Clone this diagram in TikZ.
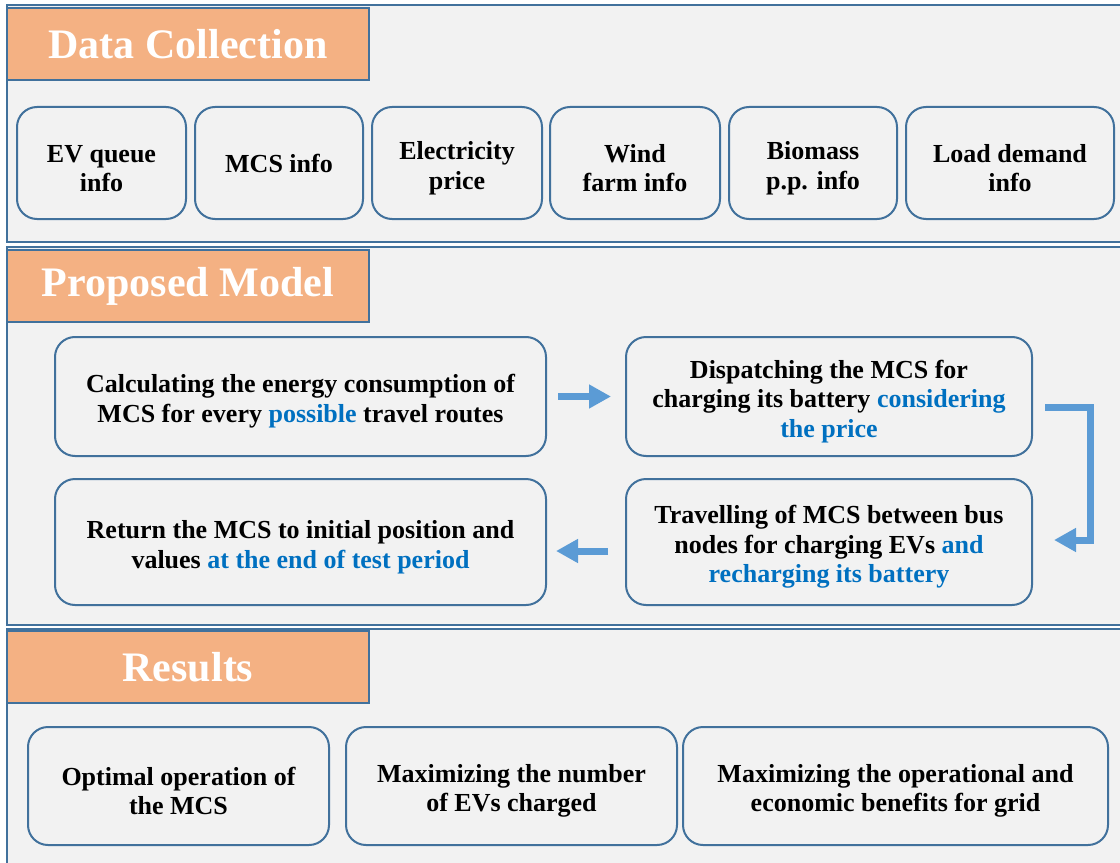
\documentclass[tikz,border=0pt]{standalone}
\usepackage{fontspec}
\setmainfont{Liberation Serif}
\usepackage{tikz}
\usetikzlibrary{arrows.meta}

\definecolor{panelbg}{HTML}{F2F2F2}
\definecolor{edgeblue}{HTML}{41719C}
\definecolor{headorange}{HTML}{F4B183}
\definecolor{arrowblue}{HTML}{5B9BD5}
\definecolor{hl}{HTML}{0070C0}

% lift first line a little so text sits like the original
\newcommand{\upstrut}{\rule{0pt}{21pt}}

\tikzset{
  panel/.style={draw=edgeblue, line width=1.8pt, fill=panelbg},
  headbox/.style={draw=edgeblue, line width=1.5pt, fill=headorange, inner sep=0pt,
    minimum width=271.5pt, minimum height=54pt, text=white,
    font=\fontsize{31.5}{38}\selectfont\bfseries},
  infobox/.style={draw=edgeblue, line width=1.5pt, rounded corners=15pt, inner sep=0pt,
    align=center, font=\fontsize{19.5}{22.2}\selectfont\bfseries},
  flowarrow/.style={draw=arrowblue, line width=5.25pt, line join=miter,
    -{Triangle[length=16.5pt,width=17pt]}}
}

\begin{document}
\begin{tikzpicture}[x=0.75pt,y=0.75pt,yscale=-1,xscale=1]
\useasboundingbox (0,0) rectangle (1120,863);
\fill[white] (0,0) rectangle (1120,863);
\clip (0,0) rectangle (1120,863);

%Shape: Rectangle (panels)
\draw[panel] (7,5) rectangle (1135,242);
\draw[panel] (7,247) rectangle (1135,625);
\draw[panel] (7,629) rectangle (1135,880);

% Headers
\node[headbox] (hdata) at (188,44) {Data Collection};
\node[headbox] (hmodel) at (188,286) {Proposed Model};
\node[headbox] (hres) at (188,667) {Results};

% Data collection boxes
\node[infobox, minimum width=126.75pt, minimum height=84pt] (evq) at (101.5,163) {\upstrut EV queue\\info};
\node[infobox, minimum width=126pt, minimum height=84pt] (mcs) at (279,163) {MCS info};
\node[infobox, minimum width=127.5pt, minimum height=84pt] (price) at (457,163) {\upstrut Electricity\\price};
\node[infobox, minimum width=127.5pt, minimum height=84pt] (wind) at (635,163) {\upstrut Wind\\farm info};
\node[infobox, minimum width=126pt, minimum height=84pt] (bio) at (813,163) {\upstrut Biomass\\p.p. info};
\node[infobox, minimum width=156pt, minimum height=84pt] (load) at (1010,163) {\upstrut Load demand\\info};

% Proposed model boxes
\node[infobox, minimum width=368.25pt, minimum height=89.25pt] (calc) at (300.5,396.5)
  {\upstrut Calculating the energy consumption of\\MCS for every {\color{hl}possible} travel routes};
\node[infobox, minimum width=304.5pt, minimum height=89.25pt] (disp) at (829,396.5)
  {\upstrut Dispatching the MCS for\\charging its battery {\color{hl}considering}\\{\color{hl}the price}};
\node[infobox, minimum width=304.5pt, minimum height=94.5pt] (trav) at (829,542)
  {\upstrut Travelling of MCS between bus\\nodes for charging EVs {\color{hl}and}\\{\color{hl}recharging its battery}};
\node[infobox, minimum width=368.25pt, minimum height=94.5pt] (ret) at (300.5,542)
  {\upstrut Return the MCS to initial position and\\values {\color{hl}at the end of test period}};

% Arrows
\draw[flowarrow, shorten <=8.25pt, shorten >=10.5pt] (calc) -- (disp);
\draw[flowarrow] ([xshift=9pt,yshift=8.6pt]disp.east) -- ++(45,0) |- ([xshift=15.75pt,yshift=-1.5pt]trav.east);
\draw[flowarrow, shorten <=12.75pt, shorten >=6.75pt] ([yshift=6.75pt]trav.west) -- ([yshift=6.75pt]ret.east);

% Results boxes
\node[infobox, minimum width=225.75pt, minimum height=88.5pt] (opt) at (178.5,786) {\upstrut Optimal operation of\\the MCS};
\node[infobox, minimum width=248.25pt, minimum height=88.5pt] (numev) at (511.5,786) {\upstrut Maximizing the number\\of EVs charged};
\node[infobox, minimum width=318.75pt, minimum height=88.5pt] (grid) at (895.5,786) {\upstrut Maximizing the operational and\\economic benefits for grid};
\end{tikzpicture}
\end{document}
